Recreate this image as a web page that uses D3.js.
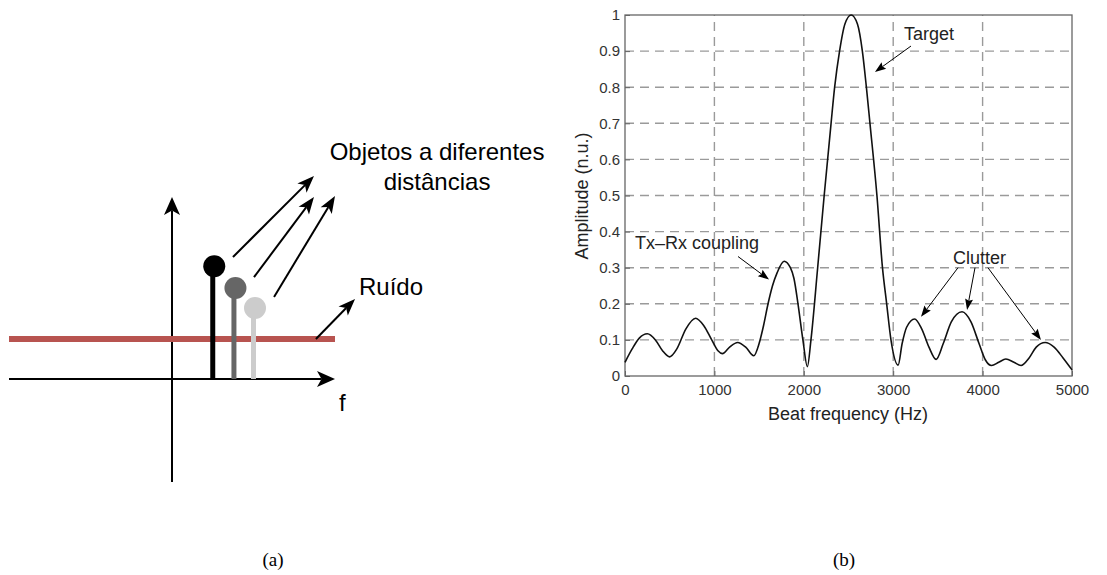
<!DOCTYPE html>
<html lang="pt">
<head>
<meta charset="UTF-8">
<title>Espectro de batimento</title>
<script src="https://cdn.jsdelivr.net/npm/d3@7"></script>
<style>
    body { margin: 0; background: #fff; }
    svg { display: block; font-family: "Liberation Sans", Arial, sans-serif; }
</style>
</head>
<body>
<script>
// (a) esquema: posicao e amplitude de cada objeto, nivel de ruido
const stemPos = [0.25, 0.38, 0.5]
const stemAmp = [0.62, 0.5, 0.39]
const noiseLevel = 0.22

// (b) espectro de batimento
const freq = [0, 80, 160, 250, 340, 420, 500, 580, 680, 790, 880, 970, 1040, 1090, 1170, 1260, 1350, 1440,
              1500, 1550, 1600, 1650, 1700, 1780, 1850, 1890, 1935, 1990, 2040,
              2080, 2155, 2228, 2305, 2345, 2400, 2460, 2530, 2600, 2655, 2700, 2740, 2818, 2880, 2927, 2975, 3055,
              3100, 3150, 3240, 3320, 3400, 3480, 3560, 3650, 3770, 3870, 3960, 4030, 4100, 4180, 4260, 4350, 4430,
              4520, 4600, 4700, 4800, 4900, 5000]
const amp = [0.038, 0.075, 0.105, 0.117, 0.1, 0.07, 0.053, 0.075, 0.13, 0.16, 0.14, 0.1, 0.07, 0.062, 0.08, 0.093, 0.08, 0.056,
             0.09, 0.14, 0.2, 0.25, 0.285, 0.318, 0.3, 0.27, 0.2, 0.1, 0.026,
             0.1, 0.3, 0.5, 0.7, 0.8, 0.9, 0.975, 1.0, 0.975, 0.9, 0.8, 0.7, 0.5, 0.3, 0.2, 0.1, 0.03,
             0.09, 0.135, 0.158, 0.13, 0.08, 0.046, 0.09, 0.15, 0.178, 0.15, 0.09, 0.045, 0.029, 0.038, 0.047, 0.038, 0.029,
             0.05, 0.08, 0.093, 0.08, 0.05, 0.017]
const xTicks = [0, 1000, 2000, 3000, 4000, 5000]
const yTicks = [0, 0.1, 0.2, 0.3, 0.4, 0.5, 0.6, 0.7, 0.8, 0.9, 1]

const w = 1107
const h = 575

const svg = d3.select("body").append("svg")
    .attr("width", w)
    .attr("height", h)

// seta com ponta cheia
function arrow(g, x1, y1, x2, y2, len, half, notch, sw) {
    const a = Math.atan2(y2 - y1, x2 - x1)
    const c = Math.cos(a), s = Math.sin(a)
    const bx = x2 - len * notch * c, by = y2 - len * notch * s
    g.append("line")
        .attr("x1", x1).attr("y1", y1).attr("x2", bx).attr("y2", by)
        .attr("stroke", "#000").attr("stroke-width", sw)
    const lx = x2 - len * c, ly = y2 - len * s
    g.append("path")
        .attr("d", `M${x2},${y2}L${lx + half * s},${ly - half * c}L${bx},${by}L${lx - half * s},${ly + half * c}Z`)
        .attr("fill", "#000")
}

// ---------- (a) ----------
const xa = d3.scaleLinear().domain([-1, 1]).range([9, 335])
const ya = d3.scaleLinear().domain([0, 1]).range([379, 197])
const ga = svg.append("g")

arrow(ga, xa(0), ya(-0.566), xa(0), ya(1), 18, 8, 0.75, 2)
arrow(ga, xa(-1), ya(0), xa(1), ya(0), 18, 8, 0.75, 2)

ga.append("line")
    .attr("x1", xa(-1)).attr("x2", xa(1))
    .attr("y1", ya(noiseLevel)).attr("y2", ya(noiseLevel))
    .attr("stroke", "#b85450").attr("stroke-width", 6)

const stemColors = ["#000", "#666", "#ccc"]
const stems = stemPos.map((p, i) => ({p: p, a: stemAmp[i], c: stemColors[i]}))

ga.selectAll(".stem").data(stems).enter().append("line")
    .attr("class", "stem")
    .attr("x1", d => xa(d.p)).attr("x2", d => xa(d.p))
    .attr("y1", ya(0)).attr("y2", d => ya(d.a))
    .attr("stroke", d => d.c).attr("stroke-width", 5)

ga.selectAll(".head").data(stems).enter().append("circle")
    .attr("class", "head")
    .attr("cx", d => xa(d.p) + 1.5).attr("cy", d => ya(d.a))
    .attr("r", 11)
    .attr("fill", d => d.c)

// setas dos objetos e do ruido
arrow(ga, xa(0.374), ya(0.67), xa(0.871), ya(1.115), 17, 6.5, 0.75, 2)
arrow(ga, xa(0.503), ya(0.56), xa(0.871), ya(1.0), 17, 6.5, 0.75, 2)
arrow(ga, xa(0.626), ya(0.451), xa(1.0), ya(1.005), 17, 6.5, 0.75, 2)
arrow(ga, xa(0.883), ya(noiseLevel), xa(1.123), ya(0.44), 17, 6.5, 0.75, 2)

ga.append("text").attr("x", xa(1.626)).attr("y", ya(1.203))
    .attr("text-anchor", "middle").style("font-size", "24px")
    .text("Objetos a diferentes")
ga.append("text").attr("x", xa(1.626)).attr("y", ya(1.038))
    .attr("text-anchor", "middle").style("font-size", "24px")
    .text("distâncias")
ga.append("text").attr("x", xa(1.147)).attr("y", ya(0.46))
    .style("font-size", "24px").text("Ruído")
ga.append("text").attr("x", xa(1.025)).attr("y", ya(-0.176))
    .style("font-size", "24px").text("f")

// ---------- (b) ----------
const x = d3.scaleLinear().domain([0, 5000]).range([625, 1072])
const y = d3.scaleLinear().domain([0, 1]).range([376, 15])
const gb = svg.append("g")

// grade tracejada
gb.selectAll(".hgrid").data(yTicks.slice(1, -1)).enter().append("line")
    .attr("x1", x(0)).attr("x2", x(5000))
    .attr("y1", d => y(d)).attr("y2", d => y(d))
    .attr("stroke", "#9a9a9a").attr("stroke-width", 1.4).attr("stroke-dasharray", "9,6")
gb.selectAll(".vgrid").data(xTicks.slice(1, -1)).enter().append("line")
    .attr("y1", y(0)).attr("y2", y(1))
    .attr("x1", d => x(d)).attr("x2", d => x(d))
    .attr("stroke", "#9a9a9a").attr("stroke-width", 1.4).attr("stroke-dasharray", "9,6")

gb.append("rect")
    .attr("x", x(0)).attr("y", y(1))
    .attr("width", x(5000) - x(0)).attr("height", y(0) - y(1))
    .attr("fill", "none").attr("stroke", "#666").attr("stroke-width", 1.3)

const xAxis = d3.axisBottom(x).tickValues(xTicks).tickSizeInner(-5).tickSizeOuter(0).tickPadding(8)
    .tickFormat(d => String(d))
const yAxis = d3.axisLeft(y).tickValues(yTicks).tickSizeInner(-5).tickSizeOuter(0).tickPadding(5)
    .tickFormat(d => String(d))

const gx = gb.append("g").attr("transform", `translate(0, ${y(0)})`).call(xAxis)
const gy = gb.append("g").attr("transform", `translate(${x(0)}, 0)`).call(yAxis)
;[gx, gy].forEach(g => {
    g.select(".domain").remove()
    g.selectAll("line").attr("stroke", "#666")
    g.selectAll("text").attr("fill", "#333").style("font-size", "15px")
        .style("font-family", "'Liberation Sans', Arial, sans-serif")
})

const line = d3.line()
    .x((d, i) => x(freq[i]))
    .y(d => y(d))
    .curve(d3.curveMonotoneX)

gb.append("path")
    .attr("d", line(amp))
    .attr("fill", "none").attr("stroke", "#111").attr("stroke-width", 1.6)

gb.append("text").attr("x", 848).attr("y", 420)
    .attr("text-anchor", "middle").attr("fill", "#222").style("font-size", "18px")
    .text("Beat frequency (Hz)")
gb.append("text")
    .attr("transform", "translate(588, 196) rotate(-90)")
    .attr("text-anchor", "middle").attr("fill", "#222").style("font-size", "18px")
    .text("Amplitude (n.u.)")

// anotacoes
gb.append("text").attr("x", x(3121)).attr("y", y(0.93))
    .attr("fill", "#222").style("font-size", "18px").text("Target")
arrow(gb, x(3199), y(0.914), x(2796), y(0.842), 11, 4, 0.85, 1)

gb.append("text").attr("x", x(112)).attr("y", y(0.353))
    .attr("fill", "#222").style("font-size", "18px").text("Tx\u2013Rx coupling")
arrow(gb, x(1264), y(0.331), x(1611), y(0.267), 11, 4, 0.85, 1)

gb.append("text").attr("x", x(3669)).attr("y", y(0.311))
    .attr("fill", "#222").style("font-size", "18px").text("Clutter")
arrow(gb, x(3725), y(0.3), x(3311), y(0.164), 11, 4, 0.85, 1)
arrow(gb, x(3915), y(0.3), x(3826), y(0.183), 11, 4, 0.85, 1)
arrow(gb, x(4060), y(0.3), x(4653), y(0.1), 11, 4, 0.85, 1)

// legendas
svg.append("text").attr("x", 273).attr("y", 566)
    .attr("text-anchor", "middle")
    .style("font-family", "'Liberation Serif', 'DejaVu Serif', serif").style("font-size", "19px")
    .text("(a)")
svg.append("text").attr("x", 844).attr("y", 566)
    .attr("text-anchor", "middle")
    .style("font-family", "'Liberation Serif', 'DejaVu Serif', serif").style("font-size", "19px")
    .text("(b)")
</script>
</body>
</html>
